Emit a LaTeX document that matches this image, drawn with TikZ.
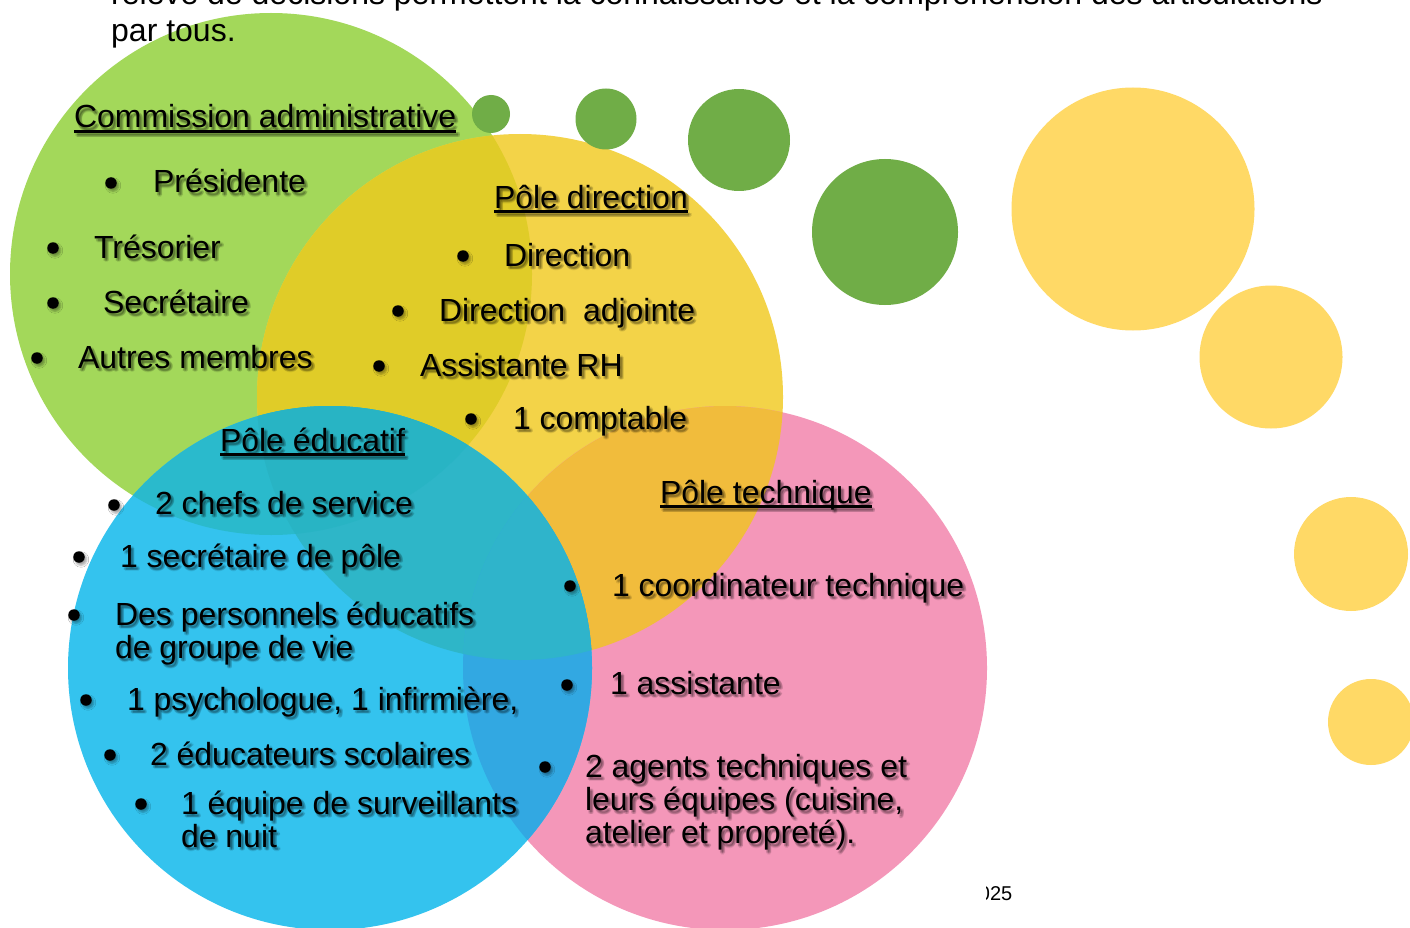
\documentclass[tikz,border=0pt]{standalone}
\usepackage{fontspec}
\setmainfont{Liberation Sans}
\usetikzlibrary{shadows.blur}

% circle colours
\definecolor{cGreen}{RGB}{163,216,90}
\definecolor{cYellow}{RGB}{243,211,72}
\definecolor{cBlue}{RGB}{52,195,238}
\definecolor{cPink}{RGB}{244,151,185}
% colours of the overlapping parts
\definecolor{cGY}{RGB}{224,204,40}
\definecolor{cYP}{RGB}{241,188,60}
\definecolor{cBY}{RGB}{46,182,200}
\definecolor{cBG}{RGB}{42,186,204}
\definecolor{cBP}{RGB}{50,168,226}
\definecolor{cBYP}{RGB}{47,180,203}
\definecolor{cGYB}{RGB}{40,180,196}
% decorative dots
\definecolor{cDkGreen}{RGB}{112,173,71}
\definecolor{cLtYellow}{RGB}{255,217,102}

\newcommand\bodyfont{\fontsize{32}{33}\selectfont}
% underlined heading
\newcommand\hdg[1]{\setbox0=\hbox{#1}\rlap{\rule[-5pt]{\wd0}{2.6pt}}\box0}
% several lines, first baseline as the node's base
\newcommand\txtlines[1]{\begin{tabular}[t]{@{}l@{}}#1\end{tabular}}
% text with a soft drop shadow: name, x, baseline y, text
\newcommand\shtext[4]{%
  \foreach \sx/\sy in {1.3/3,3.7/3,2.5/1.8,2.5/4.2,1.6/2.1,3.4/2.1,1.6/3.9,3.4/3.9}
    {\node[txt, text opacity=0.075] at (#2+\sx,#3+\sy) {#4};}
  \node[txt] (#1) at (#2,#3) {#4};}
% list bullet: name, x, y of its centre
\newcommand\bulletat[3]{\node[bul] (#1) at (#2,#3) {};}

\begin{document}
\begin{tikzpicture}[x=1pt,y=-1pt,
  txt/.style={anchor=base west, inner sep=0pt, outer sep=0pt, font=\bodyfont, text=black},
  bul/.style={circle, fill=black, inner sep=0pt, minimum size=11.5pt,
    blur shadow={shadow xshift=2pt, shadow yshift=-2.5pt, shadow blur radius=2pt, shadow opacity=35}},
  plain/.style={anchor=base west, inner sep=0pt, font=\bodyfont, text=black}]
\useasboundingbox (0,0) rectangle (1410,928);
\clip (0,0) rectangle (1410,928);
\fill[white] (0,0) rectangle (1410,928);

% the four big circles
\fill[cGreen]  (271,274) circle[radius=261];
\fill[cYellow] (520,397) circle[radius=263];
\fill[cPink]   (725,668) circle[radius=262];
\fill[cBlue]   (330,668) circle[radius=262];

% overlaps
\begin{scope}
  \clip (271,274) circle[radius=261];
  \fill[cGY] (520,397) circle[radius=263];
\end{scope}
\begin{scope}
  \clip (520,397) circle[radius=263];
  \fill[cYP] (725,668) circle[radius=262];
\end{scope}
\begin{scope}
  \clip (330,668) circle[radius=262];
  \fill[cBG] (271,274) circle[radius=261];
\end{scope}
\begin{scope}
  \clip (330,668) circle[radius=262];
  \fill[cBY] (520,397) circle[radius=263];
\end{scope}
\begin{scope}
  \clip (330,668) circle[radius=262];
  \fill[cBP] (725,668) circle[radius=262];
\end{scope}
\begin{scope}
  \clip (520,397) circle[radius=263];
  \clip (725,668) circle[radius=262];
  \fill[cBYP] (330,668) circle[radius=262];
\end{scope}
\begin{scope}
  \clip (271,274) circle[radius=261];
  \clip (520,397) circle[radius=263];
  \fill[cGYB] (330,668) circle[radius=262];
\end{scope}

% decorative dots
\fill[cDkGreen] (491,114) circle[radius=19];
\fill[cDkGreen] (606,119) circle[radius=30.5];
\fill[cDkGreen] (739,140) circle[radius=51];
\fill[cDkGreen] (885,232) circle[radius=73];
\fill[cLtYellow] (1133,209) circle[radius=121.5];
\fill[cLtYellow] (1271,357) circle[radius=71.5];
\fill[cLtYellow] (1351,554) circle[radius=57];
\fill[cLtYellow] (1371,722) circle[radius=43];

% paragraph above
\node[plain] (para1) at (111,5) {relève de décisions permettent la connaissance et la compréhension des articulations};
\node[plain] (para2) at (111,42) {par tous.};

% page number
\begin{scope}
  \clip (986.5,870) rectangle (1030,912);
  \node[anchor=base east, inner sep=0pt, font=\fontsize{20}{24}\selectfont] (pgnum) at (1012.5,900) {2025};
\end{scope}

% Commission administrative
\shtext{hCA}{74}{128}{\hdg{Commission administrative}}
\bulletat{bPres}{111}{183} \shtext{tPres}{153}{193}{Présidente}
\bulletat{bTres}{53}{248}  \shtext{tTres}{94}{258}{Trésorier}
\bulletat{bSecr}{53}{303}  \shtext{tSecr}{103}{313}{Secrétaire}
\bulletat{bAutr}{37}{358}  \shtext{tAutr}{78}{368}{Autres membres}

% Pole direction
\shtext{hDir}{494}{208}{\hdg{Pôle direction}}
\bulletat{bDir}{463}{256}  \shtext{tDir}{504}{266}{Direction}
\bulletat{bDirA}{398}{311} \shtext{tDirA}{439}{321}{Direction~~adjointe}
\bulletat{bRH}{379}{366}   \shtext{tRH}{420}{376}{Assistante RH}
\bulletat{bCpt}{471}{419}  \shtext{tCpt}{513}{429}{1 comptable}

% Pole educatif
\shtext{hEdu}{220}{451}{\hdg{Pôle éducatif}}
\bulletat{bChef}{114}{505} \shtext{tChef}{155}{514}{2 chefs de service}
\bulletat{bSecP}{79}{557}  \shtext{tSecP}{120}{567}{1 secrétaire de pôle}
\bulletat{bPers}{74}{615}  \shtext{tPers}{115}{625}{\txtlines{Des personnels éducatifs\\de groupe de vie}}
\bulletat{bPsy}{86}{700}   \shtext{tPsy}{127}{710}{1 psychologue, 1 infirmière,}
\bulletat{bScol}{110}{755} \shtext{tScol}{150}{765}{2 éducateurs scolaires}
\bulletat{bNuit}{141}{804} \shtext{tNuit}{181}{814}{\txtlines{1 équipe de surveillants\\de nuit}}

% Pole technique
\shtext{hTec}{660}{503}{\hdg{Pôle technique}}
\bulletat{bCoor}{570}{586} \shtext{tCoor}{612}{596}{1 coordinateur technique}
\bulletat{bAss}{567}{685}  \shtext{tAss}{610}{694}{1 assistante}
\bulletat{bAgt}{545}{767}  \shtext{tAgt}{585}{777}{\txtlines{2 agents techniques et\\leurs équipes (cuisine,\\atelier et propreté).}}
\end{tikzpicture}
\end{document}
